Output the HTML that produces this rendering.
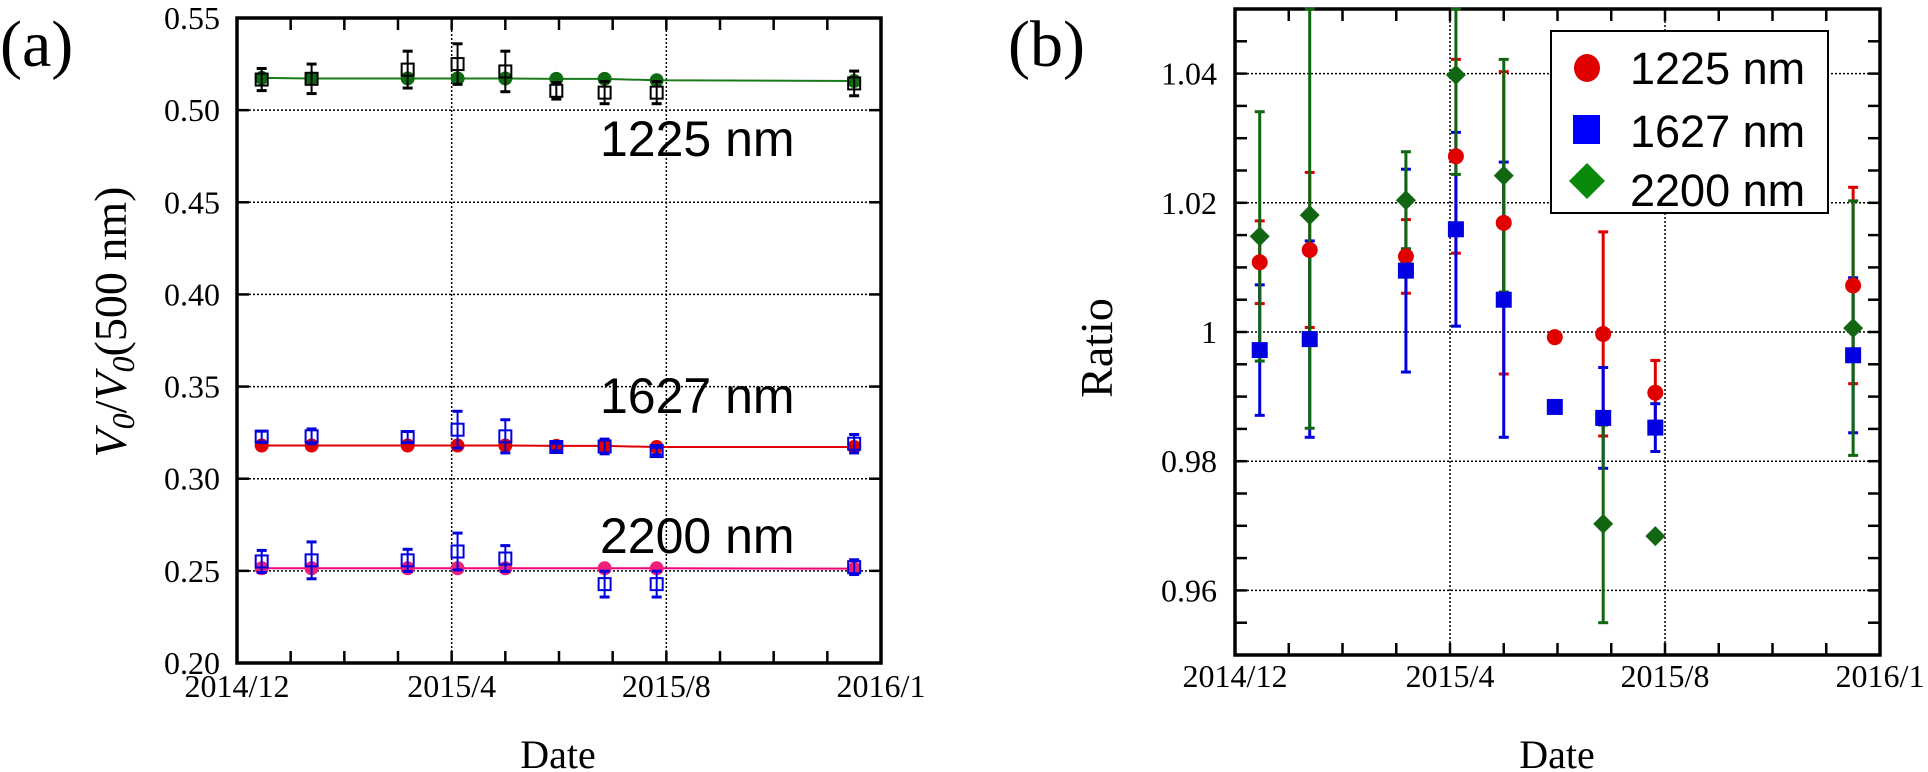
<!DOCTYPE html>
<html><head><meta charset="utf-8">
<style>
html,body{margin:0;padding:0;background:#fff;}
svg{display:block;}
text{font-family:"Liberation Serif",serif;}
.sans{font-family:"Liberation Sans",sans-serif;}
</style></head>
<body>
<svg id="chart" width="1928" height="772" viewBox="0 0 1928 772" xmlns="http://www.w3.org/2000/svg">
<g id="pa"></g>
<g id="pb"></g>
</svg>
<script>
// ---- shared data ----
const monthTicks = [0,1,2,3,4,5,6,7,8,9,10,11,12];
const xLabels = ["2014/12","2015/4","2015/8","2016/1"];
const xLabelMonths = [0,4,8,12];
const dates = [0.46,1.39,3.18,4.11,5.0,5.95,6.85,7.82,11.5];
// ---- panel a data ----
const aTicks = [0.20,0.25,0.30,0.35,0.40,0.45,0.50,0.55];
const aTickLabels = ["0.20","0.25","0.30","0.35","0.40","0.45","0.50","0.55"];
const a1225fit = [0.5175,0.5172,0.5172,0.5172,0.5172,0.5170,0.5170,0.5162,0.5158];
const a1225obs = [0.5166,0.5170,0.5220,0.5250,0.5210,0.5105,0.5095,0.5095,0.5145];
const a1225err = [0.006,0.008,0.010,0.011,0.011,0.0045,0.006,0.006,0.0067];
const a1627fit = [0.3180,0.3180,0.3180,0.3180,0.3180,0.3178,0.3178,0.3172,0.3172];
const a1627obs = [0.3228,0.3230,0.3226,0.3266,0.3230,0.3172,0.3175,0.3150,0.3190];
const a1627err = [0.003,0.004,0.003,0.010,0.009,0.002,0.004,0.002,0.005];
const a2200idx = [0,1,2,3,4,6,7,8];
const a2200fit = [0.2514,0.2514,0.2514,0.2514,0.2514,0.2514,0.2514,0.2512];
const a2200obs = [0.2551,0.2557,0.2557,0.2605,0.2567,0.2428,0.2428,0.2520];
const a2200err = [0.006,0.010,0.006,0.010,0.007,0.007,0.007,0.004];
// ---- panel b data ----
const bTicks = [0.96,0.98,1.00,1.02,1.04];
const bTickLabels = ["0.96","0.98","1","1.02","1.04"];
const bMinor = [0.95,0.955,0.96,0.965,0.97,0.975,0.98,0.985,0.99,0.995,1.0,1.005,1.01,1.015,1.02,1.025,1.03,1.035,1.04,1.045,1.05];
const b1225 = [1.0108,1.0127,1.0117,1.0272,1.0169,0.9992,0.9997,0.9906,1.0072];
const b1225err = [0.0064,0.012,0.0057,0.015,0.0234,0,0.0158,0.005,0.0152];
const b1627 = [0.9972,0.9989,1.0095,1.0159,1.0050,0.9884,0.9867,0.9852,0.9964];
const b1627err = [0.0101,0.0152,0.0157,0.015,0.0213,0,0.0078,0.0037,0.012];
const b2200idx = [0,1,2,3,4,6,7,8];
const b2200 = [1.0148,1.0181,1.0204,1.0398,1.0242,0.9703,0.9684,1.0006];
const b2200err = [0.0193,0.033,0.0075,0.0154,0.018,0.0153,0,0.0197];

const NS="http://www.w3.org/2000/svg";
function mk(parent,tag,attrs,txt){const e=document.createElementNS(NS,tag);for(const k in attrs)e.setAttribute(k,attrs[k]);if(txt!==undefined)e.textContent=txt;parent.appendChild(e);return e;}

function axes(g,L,R,T,B,ymin,ymax,ticks,labels,minor,labelX,labelY){
  const sx=m=>L+(R-L)*m/12;
  const sy=v=>B-(B-T)*(v-ymin)/(ymax-ymin);
  ticks.forEach((v,i)=>{
    const y=sy(v);
    if(y>T+2&&y<B-2){const gl=mk(g,'line',{x1:L,x2:R,y1:y,y2:y,stroke:'#000','stroke-width':1.5,'stroke-dasharray':'2,2'});
    
    }
    const t=mk(g,'text',{x:labelX,y:y+11,'text-anchor':'end','font-size':32},labels[i]);
    
    
  });
  minor.forEach(v=>{const y=sy(v);
    mk(g,'line',{x1:L,x2:L+12,y1:y,y2:y,stroke:'#000','stroke-width':2.5});
    mk(g,'line',{x1:R-12,x2:R,y1:y,y2:y,stroke:'#000','stroke-width':2.5});});
  [4,8].forEach(m=>{const gl=mk(g,'line',{x1:sx(m),x2:sx(m),y1:T,y2:B,stroke:'#000','stroke-width':1.5,'stroke-dasharray':'2,2'});
    
    });
  monthTicks.forEach(m=>{const x=sx(m);
    mk(g,'line',{x1:x,x2:x,y1:B-12,y2:B,stroke:'#000','stroke-width':2.5});
    mk(g,'line',{x1:x,x2:x,y1:T,y2:T+12,stroke:'#000','stroke-width':2.5});});
  xLabelMonths.forEach((m,i)=>{const t=mk(g,'text',{x:sx(m),y:labelY,'text-anchor':'middle','font-size':32},xLabels[i]);
    
    });
  const box=mk(g,'rect',{x:L,y:T,width:R-L,height:B-T,fill:'none',stroke:'#000','stroke-width':3.5});
  
  
  return {sx,sy};
}
function ebar(g,x,y1,y2,col,w){
  mk(g,'line',{x1:x,x2:x,y1:y1,y2:y2,stroke:col,'stroke-width':w});
  mk(g,'line',{x1:x-5,x2:x+5,y1:y1,y2:y1,stroke:col,'stroke-width':3});
  mk(g,'line',{x1:x-5,x2:x+5,y1:y2,y2:y2,stroke:col,'stroke-width':3});
}

// ---- panel a ----
(function(){
  const g=document.getElementById('pa');
  const {sx,sy}=axes(g,237,881,18,663,0.20,0.55,aTicks,aTickLabels,aTicks,220,664+33);
  function series(idx,fit,obs,err,lineCol,fillCol,openCol,name){
    const pts=idx.map((j,i)=>sx(dates[j])+','+sy(fit[i])).join(' ');
    const pl=mk(g,'polyline',{points:pts,fill:'none',stroke:lineCol,'stroke-width':2});
    
    
    idx.forEach((j,i)=>{const x=sx(dates[j]);
      const c=mk(g,'circle',{cx:x,cy:sy(fit[i]),r:7,fill:fillCol});
      
      
      ebar(g,x,sy(obs[i]+err[i]),sy(obs[i]-err[i]),openCol,2);
      const r=mk(g,'rect',{x:x-6,y:sy(obs[i])-6,width:12,height:12,fill:'none',stroke:openCol,'stroke-width':2});
      
      });
  }
  const all=[0,1,2,3,4,5,6,7,8];
  series(all,a1225fit,a1225obs,a1225err,'#1a7a1a','#0e6b12','#000','1225nm');
  series(all,a1627fit,a1627obs,a1627err,'#e00000','#e00000','#0000e0','1627nm');
  series(a2200idx,a2200fit,a2200obs,a2200err,'#f0007a','#f0207a','#0000e0','2200nm');
  [['1225 nm',138],['1627 nm',395],['2200 nm',535]].forEach(l=>{
    const t=mk(g,'text',{x:600,y:l[1]+18,'font-size':50,'class':'sans'},l[0]);
    
    });
  const yt=mk(g,'text',{transform:'translate(126,322) rotate(-90)','text-anchor':'middle','font-size':46});
  
  
  yt.innerHTML='<tspan font-style="italic">V</tspan><tspan font-style="italic" font-size="32" dy="8">0</tspan><tspan dy="-8">/</tspan><tspan font-style="italic">V</tspan><tspan font-style="italic" font-size="32" dy="8">0</tspan><tspan dy="-8">(500 nm)</tspan>';
  const xt=mk(g,'text',{x:558,y:768,'text-anchor':'middle','font-size':40},'Date');
  
  
  const pl=mk(g,'text',{x:0,y:66,'font-size':66},'(a)');
  
  
})();

// ---- panel b ----
(function(){
  const g=document.getElementById('pb');
  const {sx,sy}=axes(g,1235,1880,9,655,0.95,1.05,bTicks,bTickLabels,bMinor,1217,676+11);
  const cl=v=>Math.max(9,Math.min(655,v));
  const all=[0,1,2,3,4,5,6,7,8];
  all.forEach(i=>{if(b1225err[i]>0)ebar(g,sx(dates[i]),cl(sy(b1225[i]+b1225err[i])),cl(sy(b1225[i]-b1225err[i])),'#e00000',3);});
  all.forEach(i=>{if(b1627err[i]>0)ebar(g,sx(dates[i]),cl(sy(b1627[i]+b1627err[i])),cl(sy(b1627[i]-b1627err[i])),'#0000e0',3);});
  b2200idx.forEach((j,i)=>{if(b2200err[i]>0)ebar(g,sx(dates[j]),cl(sy(b2200[i]+b2200err[i])),cl(sy(b2200[i]-b2200err[i])),'#116611',3);});
  all.forEach(i=>{const c=mk(g,'circle',{cx:sx(dates[i]),cy:sy(b1225[i]),r:8,fill:'#e00000'});
    
    });
  all.forEach(i=>{const r=mk(g,'rect',{x:sx(dates[i])-8,y:sy(b1627[i])-8,width:16,height:16,fill:'#0000e0'});
    
    });
  b2200idx.forEach((j,i)=>{const x=sx(dates[j]),y=sy(b2200[i]);
    const p=mk(g,'polygon',{points:`${x},${y-10} ${x+10},${y} ${x},${y+10} ${x-10},${y}`,fill:'#116611'});
    
    });
  // legend
  const lg=mk(g,'g',{});
  
  
  mk(lg,'rect',{x:1551,y:31,width:277,height:182,fill:'#fff',stroke:'#000','stroke-width':2});
  mk(lg,'ellipse',{cx:1587,cy:68,rx:13,ry:14,fill:'#e00000'});
  mk(lg,'rect',{x:1573,y:115,width:27,height:29,fill:'#0000ff'});
  mk(lg,'polygon',{points:'1587,163 1605,181 1587,199 1569,181',fill:'#0a8a0a'});
  [['1225 nm',68],['1627 nm',131],['2200 nm',190]].forEach(l=>{
    const t=mk(lg,'text',{x:1630,y:l[1]+16,'font-size':45,'class':'sans'},l[0]);
    
    });
  const yt=mk(g,'text',{transform:'translate(1112,348) rotate(-90)','text-anchor':'middle','font-size':46},'Ratio');
  
  
  const xt=mk(g,'text',{x:1557,y:768,'text-anchor':'middle','font-size':40},'Date');
  
  
  const pl=mk(g,'text',{x:1008,y:66,'font-size':66},'(b)');
  
  
})();
</script>
</body></html>
